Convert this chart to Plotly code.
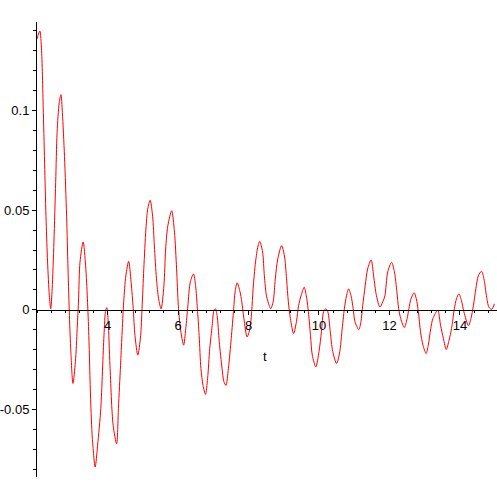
"""Damped oscillation response, Maple-style plot of y(t)."""

import plotly.graph_objects as go

# ── data ─────────────────────────────────────────────────────────────

t = [
    2.00, 2.08, 2.13, 2.18, 2.22, 2.26, 2.30, 2.35, 2.39, 2.43, 2.48, 2.53,
    2.57, 2.63, 2.68, 2.72, 2.78, 2.84, 2.88, 2.92, 2.96, 3.02, 3.09, 3.14,
    3.18, 3.22, 3.31, 3.38, 3.43, 3.47, 3.52, 3.57, 3.65, 3.72, 3.81, 3.90,
    3.95, 3.98, 4.02, 4.07, 4.16, 4.26, 4.31, 4.37, 4.41, 4.46, 4.52, 4.60,
    4.67, 4.73, 4.78, 4.86, 4.94, 4.98, 5.03, 5.09, 5.14, 5.21, 5.28, 5.33,
    5.39, 5.45, 5.52, 5.60, 5.65, 5.71, 5.82, 5.90, 5.96, 6.01, 6.07, 6.16,
    6.22, 6.28, 6.35, 6.44, 6.50, 6.55, 6.60, 6.65, 6.71, 6.78, 6.84, 6.90,
    6.97, 7.02, 7.06, 7.11, 7.17, 7.25, 7.30, 7.36, 7.43, 7.51, 7.58, 7.62,
    7.68, 7.76, 7.81, 7.87, 7.96, 8.04, 8.09, 8.13, 8.20, 8.27, 8.32, 8.40,
    8.45, 8.51, 8.59, 8.63, 8.70, 8.76, 8.83, 8.94, 9.02, 9.08, 9.13, 9.19,
    9.28, 9.36, 9.42, 9.49, 9.58, 9.64, 9.69, 9.76, 9.81, 9.91, 10.00, 10.07,
    10.13, 10.19, 10.25, 10.32, 10.39, 10.50, 10.59, 10.65, 10.72, 10.78,
    10.84, 10.91, 10.97, 11.02, 11.13, 11.19, 11.24, 11.31, 11.38, 11.48,
    11.55, 11.63, 11.73, 11.81, 11.87, 11.95, 12.06, 12.14, 12.21, 12.26,
    12.32, 12.42, 12.50, 12.55, 12.61, 12.70, 12.76, 12.82, 12.88, 12.95,
    13.04, 13.10, 13.17, 13.23, 13.37, 13.45, 13.53, 13.61, 13.69, 13.76,
    13.84, 13.90, 13.97, 14.04, 14.11, 14.24, 14.31, 14.38, 14.45, 14.52,
    14.61, 14.68, 14.75, 14.82, 14.90, 14.98,
]

y = [
    0.136, 0.140, 0.130, 0.099, 0.0705, 0.044, 0.024, 0.007, 0.0005, 0.0105,
    0.034, 0.064, 0.089, 0.104, 0.108, 0.099, 0.077, 0.047, 0.0205, -0.003,
    -0.021, -0.037, -0.026, -0.0095, 0.0055, 0.024, 0.034, 0.022, 0.0055,
    -0.013, -0.0445, -0.0645, -0.079, -0.068, -0.0495, -0.013, 0.0, 0.001,
    -0.006, -0.028, -0.058, -0.0673, -0.0495, -0.028, -0.013, 0.004, 0.017,
    0.0243, 0.0138, 0.0005, -0.013, -0.0228, -0.013, 0.0005, 0.0205, 0.0405,
    0.0505, 0.055, 0.047, 0.032, 0.0155, 0.0055, 0.0005, 0.012, 0.0305,
    0.042, 0.0497, 0.039, 0.0205, 0.002, -0.0095, -0.0178, -0.0095, 0.002,
    0.014, 0.018, 0.012, 0.0005, -0.013, -0.0295, -0.038, -0.0425, -0.0345,
    -0.0195, -0.008, -0.0003, 0.0005, -0.003, -0.016, -0.0295, -0.036,
    -0.038, -0.0295, -0.0145, 0.0005, 0.009, 0.0135, 0.009, 0.004, -0.0045,
    -0.0137, -0.0095, -0.001, 0.0105, 0.024, 0.032, 0.0343, 0.029, 0.017,
    0.007, 0.002, 0.0005, 0.004, 0.0155, 0.0255, 0.0322, 0.027, 0.0155,
    0.004, -0.0045, -0.012, -0.006, 0.002, 0.007, 0.0113, 0.007, 0.0005,
    -0.013, -0.0228, -0.0287, -0.021, -0.011, -0.001, 0.0005, -0.001,
    -0.011, -0.021, -0.027, -0.021, -0.011, 0.0005, 0.007, 0.0105, 0.007,
    0.0005, -0.006, -0.010, -0.006, 0.002, 0.012, 0.0205, 0.025, 0.017,
    0.007, 0.0013, 0.004, 0.007, 0.019, 0.0238, 0.019, 0.009, 0.0005,
    -0.0045, -0.009, -0.0045, 0.0005, 0.0055, 0.0085, 0.0055, -0.001,
    -0.011, -0.0178, -0.022, -0.0178, -0.0095, -0.0045, -0.0003, -0.008,
    -0.0145, -0.020, -0.0153, -0.0095, 0.0005, 0.0055, 0.008, 0.0047,
    -0.001, -0.008, -0.0045, 0.002, 0.0105, 0.017, 0.0193, 0.0155, 0.007,
    0.0013, 0.0002, 0.003,
]

x_ticks = [4, 6, 8, 10, 12, 14]
y_ticks = [-0.05, 0, 0.05, 0.1]
y_labels = ["-0.05", "0", "0.05", "0.1"]

# ── chart ────────────────────────────────────────────────────────────

X_RANGE = [2.0, 15.05]
Y_RANGE = [-0.084, 0.1445]
FONT = "Liberation Sans, Arial, sans-serif"

fig = go.Figure(
    go.Scatter(
        x=t,
        y=y,
        mode="lines",
        line={"color": "#ff0000", "width": 1, "shape": "spline", "smoothing": 0.8},
        hoverinfo="skip",
    )
)

# x axis crosses at y = 0, as Maple draws it
zero_pos = (0 - Y_RANGE[0]) / (Y_RANGE[1] - Y_RANGE[0])

fig.update_layout(
    width=497,
    height=497,
    margin={"l": 37, "r": 0, "t": 22, "b": 20},
    paper_bgcolor="white",
    plot_bgcolor="white",
    showlegend=False,
    font={"family": FONT, "size": 13, "color": "black"},
    xaxis={
        "range": X_RANGE,
        "automargin": False,
        "anchor": "free",
        "position": zero_pos,
        "showgrid": False,
        "zeroline": False,
        "showline": True,
        "linecolor": "black",
        "linewidth": 1,
        "tickmode": "array",
        "tickvals": x_ticks,
        "ticks": "outside",
        "ticklen": 4,
        "tickcolor": "black",
        "minor": {"dtick": 0.4, "tick0": 2, "ticks": "outside", "ticklen": 2,
                  "tickcolor": "black", "showgrid": False},
    },
    yaxis={
        "range": Y_RANGE,
        "automargin": False,
        "showgrid": False,
        "zeroline": False,
        "showline": True,
        "linecolor": "black",
        "linewidth": 1,
        "tickmode": "array",
        "tickvals": y_ticks,
        "ticktext": y_labels,
        "ticks": "outside",
        "ticklen": 4,
        "tickcolor": "black",
        "minor": {"dtick": 0.01, "tick0": 0, "ticks": "outside", "ticklen": 3,
                  "tickcolor": "black", "showgrid": False},
    },
    annotations=[
        {
            "text": "t",
            "x": 8.46,
            "y": -0.0235,
            "xref": "x",
            "yref": "y",
            "showarrow": False,
            "font": {"family": FONT, "size": 13, "color": "black"},
        }
    ],
)

# drop the browser's default 8px body margin so the figure sits at (0, 0)
fig.write_html(
    "out.html",
    config={"displayModeBar": False},
    post_script="document.body.style.margin = '0';",
)
